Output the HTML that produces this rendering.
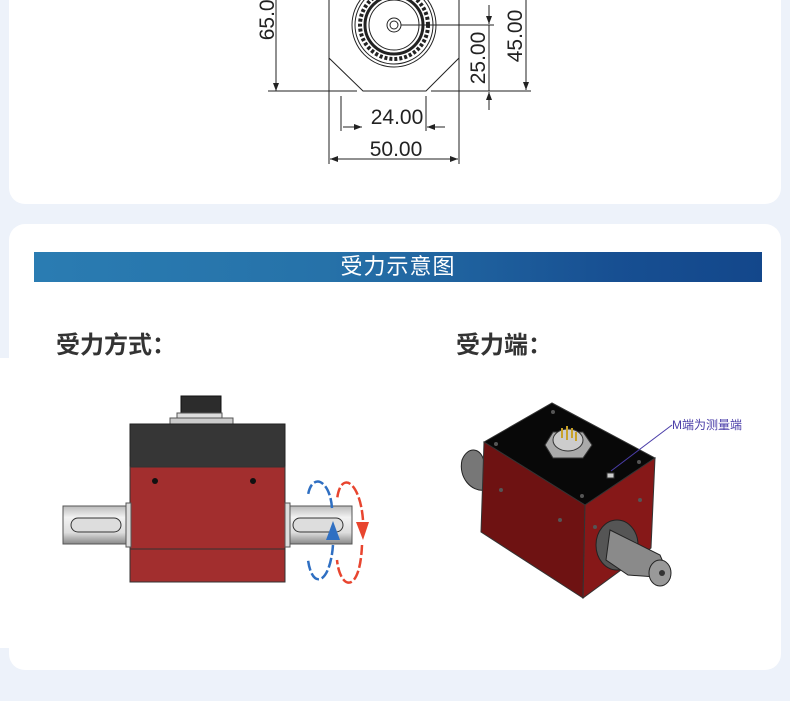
<!DOCTYPE html>
<html><head><meta charset="utf-8"><style>
html,body{margin:0;padding:0}
body{width:790px;height:701px;background:#edf2fa;position:relative;overflow:hidden;font-family:"Liberation Sans","Noto Sans CJK SC",sans-serif}
.card{position:absolute;background:#fff;border-radius:16px}
.banner{position:absolute;left:34px;top:252px;width:728px;height:30px;background:linear-gradient(90deg,#2a7cb2 0%,#2672a9 40%,#174f92 80%,#13478b 100%);color:#fff;font-size:22px;line-height:30px;text-align:center;letter-spacing:1px}
.h{position:absolute;font-size:24px;font-weight:bold;color:#333;top:325px}
</style></head><body>
<div class="card" style="left:9px;top:-20px;width:772px;height:224px"></div>
<div class="card" style="left:9px;top:224px;width:772px;height:446px"></div>
<div style="position:absolute;left:0;top:358px;width:12px;height:290px;background:#fff"></div>
<div class="banner">受力示意图</div>
<div class="h" style="left:56px">受力方式：</div>
<div class="h" style="left:456px">受力端：</div>

<svg style="position:absolute;left:0;top:0" width="790" height="701">
<defs>
<marker id="a" markerWidth="8" markerHeight="6" refX="8" refY="3" orient="auto"><path d="M0,0 L8,3 L0,6z" fill="#222"/></marker>
<linearGradient id="sh" x1="0" y1="0" x2="0" y2="1"><stop offset="0" stop-color="#bbb"/><stop offset=".3" stop-color="#f2f2f2"/><stop offset=".7" stop-color="#ddd"/><stop offset="1" stop-color="#888"/></linearGradient>
</defs>
<g stroke="#222" stroke-width="1" fill="none">
<line x1="276" y1="0" x2="276" y2="91" marker-end="url(#a)"/>
<line x1="268" y1="91" x2="357" y2="91"/>
<line x1="431" y1="91" x2="531" y2="91"/>
<path d="M329,0 V58 L363,91 H426 L459,58 V0"/>
<line x1="329" y1="58" x2="329" y2="164"/>
<line x1="459" y1="58" x2="459" y2="164"/>
<circle cx="394" cy="25" r="42"/><circle cx="394" cy="25" r="39"/>
<circle cx="394" cy="25" r="29" stroke-width="3"/><circle cx="394" cy="25" r="25"/>
<circle cx="394" cy="25" r="7"/><circle cx="394" cy="25" r="4"/>
<circle cx="394" cy="25" r="34" stroke-dasharray="3 2" stroke-width="4"/>
<line x1="401" y1="25" x2="494" y2="25"/>
<line x1="489" y1="5" x2="489" y2="24" marker-end="url(#a)"/>
<line x1="489" y1="110" x2="489" y2="92" marker-end="url(#a)"/>
<line x1="489" y1="25" x2="489" y2="91"/>
<line x1="526" y1="0" x2="526" y2="90" marker-end="url(#a)"/>
<line x1="341" y1="96" x2="341" y2="131"/>
<line x1="426" y1="96" x2="426" y2="131"/>
<line x1="343" y1="127" x2="362" y2="127" marker-end="url(#a)"/>
<line x1="445" y1="127" x2="427" y2="127" marker-end="url(#a)"/>
<line x1="345" y1="159" x2="330" y2="159" marker-end="url(#a)"/>
<line x1="345" y1="159" x2="458" y2="159" marker-end="url(#a)"/>
</g>
<g font-family="Liberation Sans" font-size="21" fill="#222">
<text x="397" y="124" text-anchor="middle">24.00</text>
<text x="396" y="156" text-anchor="middle">50.00</text>
<text transform="translate(485,58) rotate(-90)" text-anchor="middle">25.00</text>
<text transform="translate(522,36) rotate(-90)" text-anchor="middle">45.00</text>
<text transform="translate(274,14) rotate(-90)" text-anchor="middle">65.00</text>
</g>

<rect x="181" y="396" width="40" height="20" fill="#2c2c2c" stroke="#111"/>
<rect x="177" y="413" width="45" height="6" fill="#ddd" stroke="#555"/>
<rect x="170" y="418" width="63" height="7" fill="#ccc" stroke="#555"/>
<rect x="130" y="424" width="155" height="44" fill="#363636" stroke="#222"/>
<rect x="130" y="467" width="155" height="83" fill="#a22e2e" stroke="#333"/>
<rect x="130" y="549" width="155" height="33" fill="#a22e2e" stroke="#333"/>
<circle cx="155" cy="481" r="3" fill="#111"/><circle cx="253" cy="481" r="3" fill="#111"/>
<rect x="63" y="506" width="63" height="38" fill="url(#sh)" stroke="#555"/>
<rect x="126" y="503" width="5" height="44" fill="#ddd" stroke="#555"/>
<rect x="71" y="518" width="50" height="14" rx="7" fill="#ddd" stroke="#333"/>
<rect x="288" y="506" width="64" height="38" fill="url(#sh)" stroke="#555"/>
<rect x="285" y="503" width="5" height="44" fill="#ddd" stroke="#555"/>
<rect x="293" y="518" width="50" height="14" rx="7" fill="#ddd" stroke="#333"/>
<g fill="none" stroke-width="2.5" stroke-dasharray="10 3">
<path d="M332,508 C330,480 312,472 308,495 M333,545 C330,585 312,590 308,560" stroke="#2f6fc2"/>
<path d="M363,520 C360,480 340,470 337,500 M362,545 C360,595 340,590 337,560" stroke="#e8452f"/>
</g>
<path d="M326,540 L333,521 L340,540z" fill="#2f6fc2"/>
<path d="M356,522 L363,540 L369,522z" fill="#e8452f"/>

<path d="M462,460 C468,445 482,448 484,462 L484,490 C472,492 458,478 462,460z" fill="#777" stroke="#222"/>
<path d="M484,442 L552,403 L655,458 L585,505z" fill="#080808" stroke="#333"/>
<path d="M484,442 L585,505 L583,598 L481,532z" fill="#6e1212" stroke="#333"/>
<path d="M585,505 L655,458 L651,548 L583,598z" fill="#861818" stroke="#333"/>
<polygon points="545,445 553,432 583,432 592,445 583,458 553,458" fill="#aaa" stroke="#333"/>
<ellipse cx="568" cy="440" rx="15" ry="11" fill="#ccc" stroke="#333"/>
<g stroke="#c9a227" stroke-width="2"><line x1="562" y1="438" x2="562" y2="428"/><line x1="567" y1="440" x2="567" y2="426"/><line x1="572" y1="438" x2="572" y2="428"/><line x1="576" y1="441" x2="576" y2="432"/></g>
<g fill="#555"><circle cx="553" cy="412" r="2"/><circle cx="496" cy="444" r="2"/><circle cx="639" cy="462" r="2"/><circle cx="582" cy="496" r="2"/><circle cx="501" cy="490" r="2"/><circle cx="560" cy="520" r="2"/><circle cx="595" cy="527" r="2"/><circle cx="640" cy="500" r="2"/></g>
<rect x="607" y="473" width="7" height="5" fill="#ccc" stroke="#333"/>
<ellipse cx="617" cy="545" rx="21" ry="25" fill="#555" stroke="#222"/>
<path d="M610,530 L660,555 L670,578 L628,575 L606,560z" fill="#8a8a8a" stroke="#222"/>
<ellipse cx="660" cy="573" rx="11" ry="13" fill="#999" stroke="#222"/>
<circle cx="662" cy="573" r="3" fill="#333"/>
<line x1="611" y1="471" x2="672" y2="425" stroke="#4a3da8" stroke-width="1"/>
<text x="672" y="429" font-size="12" fill="#4a3da8" font-family="Liberation Sans,Noto Sans CJK SC,sans-serif">M端为测量端</text>
</svg>
</body></html>
